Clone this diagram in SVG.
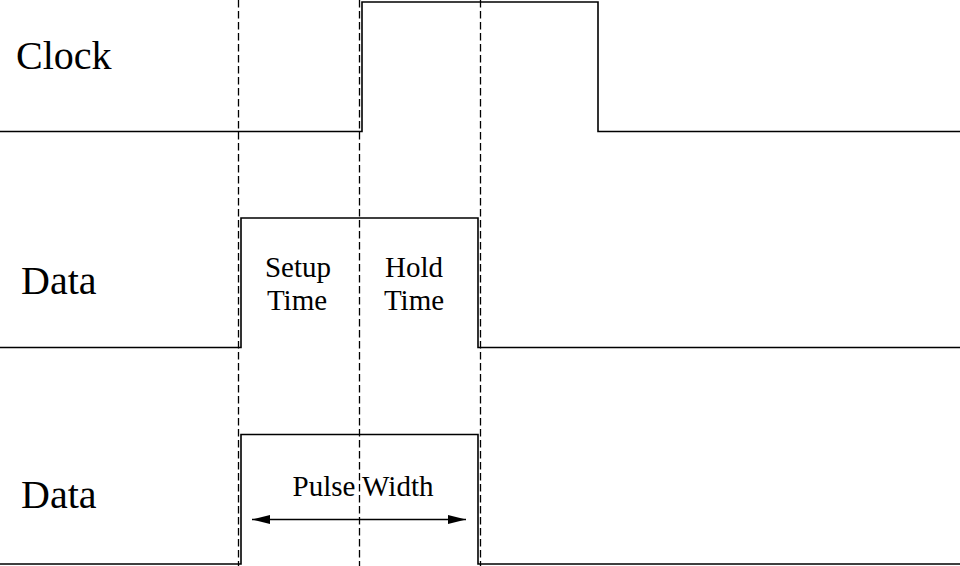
<svg xmlns="http://www.w3.org/2000/svg" width="960" height="566" viewBox="0 0 960 566">
<style>
.sig{fill:none;stroke:#000;stroke-width:1.6}
.dash{fill:none;stroke:#000;stroke-width:1.3;stroke-dasharray:7.5 3.5}
.big{font-family:"Liberation Serif",serif;font-size:40px;fill:#000}
.small{font-family:"Liberation Serif",serif;font-size:29px;fill:#000;text-anchor:middle}
</style>
<defs>
<marker id="ah" markerWidth="18" markerHeight="10" refX="18" refY="5" orient="auto-start-reverse" markerUnits="userSpaceOnUse">
<path d="M0,0.5 L18,5 L0,9.5 Z" fill="#000"/>
</marker>
</defs>
<rect width="960" height="566" fill="#fff"/>
<g id="guides">
<line class="dash" x1="238.5" y1="0" x2="238.5" y2="566"/>
<line class="dash" x1="359.5" y1="0" x2="359.5" y2="566"/>
<line class="dash" x1="480.5" y1="0" x2="480.5" y2="566"/>
</g>
<g id="clock">
<path class="sig" d="M0,131.5 H362 V2 H598 V131.5 H960"/>
<text class="big" x="16" y="69">Clock</text>
</g>
<g id="data1">
<path class="sig" d="M0,347.5 H241 V218 H478 V347.5 H960"/>
<text class="big" x="21" y="294">Data</text>
<text class="small" x="298" y="277">Setup</text>
<text class="small" x="297" y="310">Time</text>
<text class="small" x="414" y="277">Hold</text>
<text class="small" x="414" y="310">Time</text>
</g>
<g id="data2">
<path class="sig" d="M0,564 H241 V434.5 H478 V564 H960"/>
<text class="big" x="21" y="508">Data</text>
<text class="small" x="363" y="496">Pulse Width</text>
</g>
<g id="connectors">
<line x1="252" y1="519.5" x2="466" y2="519.5" stroke="#000" stroke-width="1.6" marker-start="url(#ah)" marker-end="url(#ah)"/>
</g>
</svg>
